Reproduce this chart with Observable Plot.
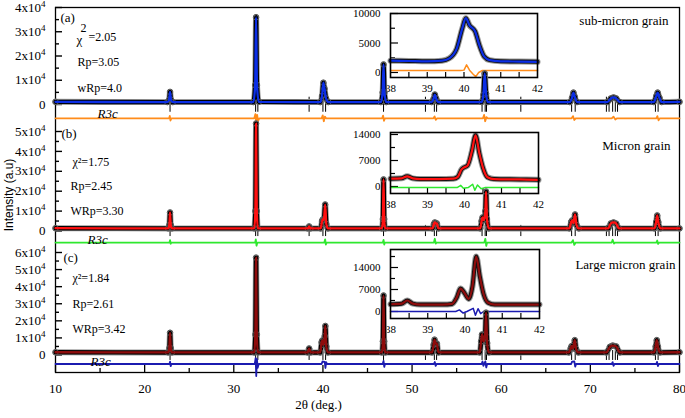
<!DOCTYPE html>
<html><head><meta charset="utf-8">
<script src="https://cdn.jsdelivr.net/npm/d3@7"></script>
<script src="https://cdn.jsdelivr.net/npm/@observablehq/plot@0.6"></script>
<style>
body{margin:0;background:#fff}
#chart{position:relative;width:685px;height:418px;overflow:hidden}
#chart svg{position:absolute;left:0;top:0}
#chart svg, #chart svg text, #chart svg tspan{font-family:"Liberation Serif",Tinos,"Times New Roman",Times,"DejaVu Serif",serif !important}
#ytitle{position:absolute;left:9px;top:195px;transform:translate(-50%,-50%) rotate(-90deg);white-space:nowrap;font:12px "Liberation Sans",Arial,sans-serif;color:#000}
</style></head><body>
<div id="chart"><div id="ytitle">Intensity (a.u)</div></div>
<script>
// ---------- DATA ----------
// Bragg reflection positions, 2θ (deg.)
const bragg = [22.85, 32.45, 32.7, 38.45, 40.0, 40.3, 46.8, 51.5, 52.5, 52.75, 57.85, 58.2, 58.35, 62.2, 67.9, 68.3, 71.8, 72.1, 72.5, 72.8, 73.05, 77.3, 77.6];

// (a) sub-micron grain: observed / calculated profile [2θ, intensity]
const obsA = [[10,1100],[22.55,1000],[22.75,2000],[22.85,5200],[22.95,2000],[23.15,1000],
[32.2,1000],[32.4,8000],[32.5,36000],[32.6,8000],[32.8,1100],
[39.7,1000],[39.9,3500],[40.05,9000],[40.18,6500],[40.35,2500],[40.6,1000],
[46.5,1000],[46.7,5000],[46.8,16500],[46.9,5000],[47.1,1000],
[52.2,1000],[52.4,2200],[52.55,4100],[52.7,2500],[52.9,1000],
[57.8,1000],[58.0,4000],[58.15,12800],[58.3,4500],[58.5,1000],
[67.7,1000],[67.95,2800],[68.1,4900],[68.25,3200],[68.5,1000],
[71.9,1000],[72.3,2500],[72.6,2900],[72.9,2500],[73.3,1000],
[77.1,1000],[77.4,3500],[77.55,4900],[77.75,2800],[78.0,1000],[80,1100]];
const diffA = [[10,-5700],[22.75,-5700],[22.82,-4700],[22.9,-6600],[23.0,-5700],
[32.3,-5700],[32.42,-4000],[32.52,-7600],[32.62,-4300],[32.72,-6900],[32.85,-5700],
[39.85,-5700],[39.98,-4500],[40.1,-6900],[40.22,-5000],[40.35,-5700],
[46.65,-5700],[46.75,-4600],[46.85,-6700],[46.95,-5700],
[52.4,-5700],[52.52,-4900],[52.65,-6300],[52.8,-5700],
[57.95,-5700],[58.08,-4300],[58.2,-6900],[58.35,-5200],[58.5,-5700],
[67.9,-5700],[68.05,-4800],[68.2,-6400],[68.35,-5700],
[72.4,-5700],[72.6,-5000],[72.8,-6200],[73.0,-5700],
[77.4,-5700],[77.52,-4800],[77.65,-6500],[77.8,-5700],[80,-5700]];

// (b) micron grain
const obsB = [[10,1400],[22.65,1300],[22.77,3000],[22.85,9300],[22.93,3000],[23.05,1300],
[32.3,1300],[32.42,10000],[32.5,54000],[32.58,10000],[32.7,1300],
[38.3,1300],[38.45,2300],[38.6,1300],
[39.75,1300],[39.9,5000],[39.98,5800],[40.1,5500],[40.25,13300],[40.38,3500],[40.55,1300],
[46.62,1300],[46.73,6000],[46.8,25900],[46.87,6000],[46.98,1300],
[52.3,1300],[52.45,3500],[52.55,4300],[52.68,3700],[52.78,3800],[52.95,1300],
[57.65,1300],[57.8,5000],[57.9,6800],[58.05,5500],[58.22,10000],[58.3,19800],[58.4,6000],[58.6,1300],
[67.65,1300],[67.85,4600],[67.95,5300],[68.1,4000],[68.28,8300],[68.45,3000],[68.7,1300],
[72.0,1300],[72.3,3800],[72.6,4300],[72.9,3700],[73.2,1300],
[77.2,1300],[77.38,4500],[77.5,7800],[77.62,4500],[77.85,1300],[80,1300]];
const diffB = [[10,-5800],[22.78,-5800],[22.85,-4600],[22.92,-6400],[23.0,-5800],
[32.4,-5800],[32.47,-4200],[32.55,-7400],[32.65,-5800],
[40.15,-5800],[40.25,-4200],[40.33,-6800],[40.42,-5800],
[46.72,-5800],[46.8,-4500],[46.88,-6800],[46.95,-5800],
[52.45,-5800],[52.55,-3900],[52.65,-6300],[52.75,-5800],
[58.1,-5800],[58.22,-3900],[58.32,-7500],[58.42,-5800],
[67.9,-5800],[68.05,-4600],[68.2,-7000],[68.35,-5800],
[72.4,-5800],[72.5,-4400],[72.65,-6300],[72.8,-5800],
[77.4,-5800],[77.5,-4800],[77.6,-6500],[77.7,-5800],[80,-5800]];

// (c) large micron grain
const obsC = [[10,1600],[22.65,1500],[22.77,4000],[22.85,13000],[22.93,4000],[23.05,1500],
[32.3,1500],[32.42,12000],[32.5,57000],[32.58,12000],[32.7,1500],
[38.28,1500],[38.45,3800],[38.62,1500],
[39.7,1500],[39.85,7500],[39.93,8500],[40.05,6000],[40.2,11000],[40.27,17000],[40.38,5000],[40.55,1500],
[46.62,1500],[46.73,8000],[46.8,34800],[46.87,8000],[46.98,1500],
[52.25,1500],[52.42,6000],[52.52,9000],[52.65,6500],[52.78,6700],[52.95,1500],
[57.6,1500],[57.75,8000],[57.85,12000],[58.02,8000],[58.2,12000],[58.3,24800],[58.42,7000],[58.6,1500],
[67.6,1500],[67.8,4000],[67.9,5200],[68.05,3800],[68.25,8700],[68.4,3500],[68.65,1500],
[71.8,1500],[72.2,4800],[72.5,5500],[72.9,5000],[73.3,1500],
[77.15,1500],[77.33,5000],[77.45,8700],[77.57,5000],[77.8,1500],[80,1600]];
const diffC = [[10,-5260],[22.78,-5260],[22.85,-3900],[22.92,-6500],[23.0,-5260],
[32.35,-5260],[32.45,-1800],[32.52,-12300],[32.6,-2500],[32.68,-7500],[32.8,-5260],
[39.85,-5260],[39.95,-3800],[40.2,-4000],[40.28,-7600],[40.36,-4200],[40.45,-5260],
[46.7,-5260],[46.8,-3500],[46.88,-7000],[46.96,-5260],
[52.45,-5260],[52.55,-4100],[52.65,-6400],[52.75,-5260],
[57.8,-5260],[57.9,-3800],[58.0,-6300],[58.22,-3700],[58.32,-7300],[58.42,-5260],
[67.85,-5260],[67.95,-3900],[68.2,-3800],[68.3,-6800],[68.4,-5260],
[72.4,-5260],[72.5,-4200],[72.6,-6300],[72.7,-5260],
[77.4,-5260],[77.48,-4000],[77.58,-6500],[77.68,-5260],[80,-5260]];

// insets, 38–42°
const insObsA = [[38,2000],[38.5,1950],[39,1900],[39.4,2000],[39.6,2400],[39.8,4000],[39.95,7400],[40.05,9200],[40.15,8000],[40.3,7000],[40.42,4600],[40.55,2700],[40.7,2100],[41,1900],[41.5,1850],[42,1800]];
const insDiffA = [[38,340],[39.9,340],[40.0,400],[40.07,1300],[40.15,400],[40.25,-300],[40.32,-700],[40.4,0],[40.5,340],[42,340]];
const insObsB = [[38,2100],[38.3,2200],[38.45,2750],[38.6,2200],[38.8,2000],[39.3,2000],[39.7,2100],[39.82,2600],[39.92,4600],[39.98,5100],[40.08,5600],[40.2,9500],[40.3,13800],[40.4,9000],[40.5,5000],[40.62,2500],[40.8,2000],[41.5,1900],[42,1800]];
const insDiffB = [[38,-300],[39.8,-300],[39.9,300],[39.97,-500],[40.1,-300],[40.22,600],[40.28,-1000],[40.35,400],[40.45,-600],[40.55,-300],[42,-300]];
const insObsC = [[38,2300],[38.3,2500],[38.45,3500],[38.6,2500],[38.8,2200],[39.4,2200],[39.65,2400],[39.78,4500],[39.88,7300],[39.98,6000],[40.1,4000],[40.2,8000],[40.3,17500],[40.4,11000],[40.5,5500],[40.62,2800],[40.8,2200],[41.5,2200],[42,2200]];
const insDiffC = [[38,0],[39.75,0],[39.85,500],[39.95,-500],[40.05,0],[40.22,1000],[40.28,-1200],[40.35,900],[40.42,-700],[40.5,0],[42,0]];

// tick values
const xMajor = [10,20,30,40,50,60,70,80];
const xMinor = [15,25,35,45,55,65,75];
const insX = [38,39,40,41,42];
const insXTicks = [38.5,39,39.5,40,40.5,41,41.5];

// ---------- RENDER ----------
const W = 685, H = 418, ML = 55, MR = 6;
const serif = "'Liberation Serif', Tinos, 'Times New Roman', Times, 'DejaVu Serif', serif";
const chart = document.getElementById("chart");
const base = o => Object.assign({width: W, height: H,
  style: {background: "transparent", fontFamily: serif, fontSize: "13px", overflow: "visible", color: "#000"}}, o);

function fixSup(svg) {
  svg.querySelectorAll("text, tspan").forEach(n => {
    if (n.childElementCount) return;
    const s = n.textContent;
    if (s.includes("^")) {
      const [b, e] = s.split("^");
      n.textContent = b;
      const ts = document.createElementNS("http://www.w3.org/2000/svg", "tspan");
      ts.setAttribute("dy", "-0.55em");
      ts.setAttribute("font-size", "9px");
      ts.textContent = e;
      n.appendChild(ts);
    }
  });
}
function add(svg) {
  svg.setAttribute("font-family", serif);
  svg.querySelectorAll("g, text").forEach(n => { if (n.hasAttribute("font-family")) n.setAttribute("font-family", serif); });
  chart.append(svg);
}
const xy = {x: d => d[0], y: d => d[1]};

// outer frame + x axis
const fh = 372 - 7, fw = W - ML - MR;
add(Plot.plot(base({
  marginLeft: ML, marginRight: MR, marginTop: 7, marginBottom: H - 372,
  x: {domain: [10, 80]},
  marks: [
    Plot.frame({strokeWidth: 1.3}),
    Plot.axisX({ticks: xMajor, tickSize: 0, tickPadding: 11, fontSize: 13, label: null}),
    Plot.tickX(xMajor, {x: d => d, insetTop: fh - 7, strokeWidth: 1.3}),
    Plot.tickX(xMinor, {x: d => d, insetTop: fh - 4, strokeWidth: 1.3}),
    Plot.text(["2θ (deg.)"], {x: 39.5, frameAnchor: "bottom", dy: 36, fontSize: 13})
  ]
})));

// insets
function inset(c) {
  const ifw = c.right - 390, ifh = c.bottom - c.top;
  add(Plot.plot(base({
    marginLeft: 390, marginRight: W - c.right, marginTop: c.top, marginBottom: H - c.bottom,
    x: {domain: [38, 42]}, y: {domain: c.ydom},
    marks: [
      Plot.frame({fill: "white", stroke: "none"}),
      Plot.axisX({ticks: insX, tickSize: 0, tickPadding: 7, fontSize: 11, label: null, tickFormat: d => String(d)}),
      Plot.tickX(insXTicks, {x: d => d, insetTop: ifh - 5, strokeWidth: 1.2}),
      Plot.axisY({ticks: c.ylab, tickSize: 0, tickPadding: 10, fontSize: 11, label: null, tickFormat: d => String(d)}),
      Plot.tickY(c.ylab, {y: d => d, insetRight: ifw - 8, strokeWidth: 1.2}),
      Plot.tickY(c.ymin, {y: d => d, insetRight: ifw - 5, strokeWidth: 1.2}),
      Plot.line(c.diff, {...xy, stroke: c.dc, strokeWidth: 1.5}),
      Plot.line(c.obs, {...xy, stroke: "#9a9a9a", strokeWidth: 6, curve: "monotone-x"}),
      Plot.line(c.obs, {...xy, stroke: "#111", strokeWidth: 4, curve: "monotone-x"}),
      Plot.line(c.obs, {...xy, stroke: c.fc, strokeWidth: 2.2, curve: "monotone-x"}),
      Plot.frame({strokeWidth: 1.6})
    ]
  })));
}
inset({top: 13, bottom: 77, right: 537, ydom: [-850, 10000], ylab: [0, 5000, 10000], ymin: [2500, 7500],
  obs: insObsA, diff: insDiffA, fc: "#0b2ee6", dc: "#ff8c1a"});
inset({top: 132, bottom: 193, right: 538, ydom: [-1885, 14540], ylab: [0, 7000, 14000], ymin: [3500, 10500],
  obs: insObsB, diff: insDiffB, fc: "#ff1010", dc: "#2fe82f"});
inset({top: 249, bottom: 318, right: 539, ydom: [-2230, 19730], ylab: [0, 7000, 14000], ymin: [3500, 10500, 17500],
  obs: insObsC, diff: insDiffC, fc: "#8e0c0c", dc: "#1b1bb0"});

// main panels
function panel(c) {
  const svg = Plot.plot(base({
    marginLeft: ML, marginRight: MR, marginTop: c.top, marginBottom: H - c.zero,
    x: {domain: [10, 80], axis: null}, y: {domain: [0, c.max]},
    marks: [
      Plot.axisY({ticks: c.major, tickSize: 0, tickPadding: 10, fontSize: 13, label: null,
        tickFormat: d => d === 0 ? "0" : `${d / 1e4}x10^4`}),
      Plot.tickY(c.major, {y: d => d, insetRight: fw - 7, strokeWidth: 1.4}),
      Plot.tickY(c.minor, {y: d => d, insetRight: fw - 4, strokeWidth: 1.4}),
      Plot.ruleX(bragg, {x: d => d, y1: c.tick[0], y2: c.tick[1], strokeWidth: 1}),
      Plot.line(c.diff, {...xy, stroke: c.dc, strokeWidth: 1.8}),
      Plot.line(c.obs, {...xy, stroke: "#9a9a9a", strokeWidth: 6, curve: "monotone-x"}),
      Plot.line(c.obs, {...xy, stroke: "#000", strokeWidth: 4.4, curve: "monotone-x"}),
      Plot.dot(c.obs, {...xy, r: 2.8, stroke: "#555", strokeWidth: 1, fill: "none"}),
      Plot.line(c.obs, {...xy, stroke: c.fc, strokeWidth: 2.3, curve: "monotone-x"}),
      ...c.texts
    ]
  }));
  fixSup(svg);
  add(svg);
}
const T = (s, x, y, o = {}) => Plot.text([s], {x, y, text: d => d, textAnchor: "start", fontSize: 12, fontFamily: serif, ...o});

panel({top: 7, zero: 104, max: 40000, major: [0, 10000, 20000, 30000, 40000], minor: [5000, 15000, 25000, 35000],
  tick: [-3200, 3000], obs: obsA, diff: diffA, fc: "#0b2ee6", dc: "#ff8c1a",
  texts: [T("(a)", 10.56, 35800, {fontSize: 13}), T("χ", 12.36, 26600, {fontSize: 13}), T("2", 12.8, 31300),
    T("=2.05", 13.7, 27600), T("Rp=3.05", 12.47, 17300), T("wRp=4.0", 12.47, 6600),
    T("R3c", 14.71, -3700, {fontSize: 13, fontStyle: "italic"}),
    T("sub-micron grain", 78.77, 34600, {fontSize: 13, textAnchor: "end"})]});
panel({top: 131, zero: 230.5, max: 50000, major: [0, 10000, 20000, 30000, 40000, 50000],
  minor: [5000, 15000, 25000, 35000, 45000],
  tick: [-2800, 2800], obs: obsB, diff: diffB, fc: "#ff1010", dc: "#2fe82f",
  texts: [T("(b)", 10.67, 49000, {fontSize: 13}), T("χ²=1.75", 11.9, 34400), T("Rp=2.45", 11.68, 22400),
    T("WRp=3.30", 11.68, 9800), T("R3c", 13.59, -4300, {fontSize: 13, fontStyle: "italic"}),
    T("Micron grain", 78.99, 43000, {fontSize: 13, textAnchor: "end"})]});
panel({top: 252, zero: 354.5, max: 60000, major: [0, 10000, 20000, 30000, 40000, 50000, 60000],
  minor: [5000, 15000, 25000, 35000, 45000, 55000],
  tick: [-3200, 2600], obs: obsC, diff: diffC, fc: "#8e0c0c", dc: "#1b1bb0",
  texts: [T("(c)", 10.9, 57000, {fontSize: 13}), T("χ²=1.84", 11.9, 44700), T("Rp=2.61", 11.9, 29500),
    T("WRp=3.42", 11.9, 14900), T("R3c", 13.93, -3800, {fontSize: 13, fontStyle: "italic"}),
    T("Large micron grain", 79.55, 52900, {fontSize: 13, textAnchor: "end"})]});
</script></body></html>
